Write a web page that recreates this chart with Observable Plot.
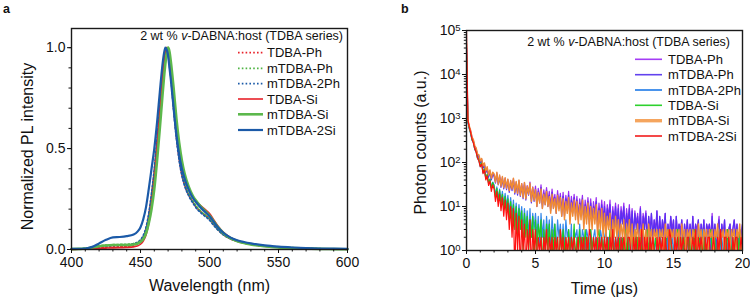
<!DOCTYPE html>
<html><head><meta charset="utf-8">
<script src="https://cdn.jsdelivr.net/npm/d3@7"></script>
<script src="https://cdn.jsdelivr.net/npm/@observablehq/plot@0.6"></script>
<style>
body{margin:0;background:#fff;}
#wrap{display:flex;width:750px;height:300px;overflow:hidden;}
#wrap svg{display:block;}
</style></head><body><div id="wrap"></div>
<script>
const FONT = "'Liberation Sans', Arial, Helvetica, sans-serif";

// ---------- Panel a: PL spectra ----------
const wavelengths = [400,405,410,415,420,425,430,435,440,445,
  448,450,452,454,456,458,460,462,464,466,
  467,468,469,470,471,472,474,476,478,480,
  482,485,488,491,494,497,500,503,506,510,
  515,520,525,530,540,550,560,570,580,590,600];

const plTDBAPh = [0.001,0.002,0.004,0.007,0.010,0.012,0.013,0.014,0.015,0.020,
  0.028,0.040,0.060,0.10,0.17,0.27,0.39,0.54,0.70,0.87,
  0.94,0.98,1.00,0.97,0.92,0.86,0.70,0.56,0.45,0.37,
  0.32,0.27,0.235,0.205,0.185,0.17,0.152,0.125,0.10,0.074,
  0.053,0.040,0.031,0.025,0.016,0.011,0.007,0.005,0.003,0.002,0.001];
const plMTDBAPh = [0.002,0.003,0.006,0.012,0.018,0.022,0.024,0.025,0.026,0.030,
  0.036,0.046,0.064,0.10,0.16,0.25,0.36,0.50,0.66,0.82,
  0.90,0.96,0.99,1.00,0.96,0.90,0.74,0.59,0.47,0.385,
  0.33,0.275,0.24,0.21,0.188,0.17,0.15,0.125,0.10,0.074,
  0.054,0.040,0.032,0.025,0.016,0.011,0.007,0.005,0.003,0.002,0.001];
const plMTDBA2Ph = [0.002,0.003,0.005,0.010,0.015,0.018,0.020,0.021,0.022,0.028,
  0.036,0.048,0.070,0.11,0.18,0.28,0.40,0.55,0.71,0.87,
  0.94,0.99,1.00,0.97,0.91,0.85,0.69,0.55,0.44,0.365,
  0.315,0.265,0.23,0.20,0.18,0.163,0.145,0.12,0.097,0.073,
  0.054,0.042,0.034,0.028,0.019,0.013,0.009,0.006,0.004,0.003,0.002];
const plTDBASi = [0.000,0.001,0.002,0.004,0.006,0.007,0.008,0.009,0.010,0.013,
  0.018,0.026,0.042,0.072,0.13,0.22,0.34,0.50,0.67,0.85,
  0.93,0.98,1.00,0.98,0.94,0.88,0.74,0.60,0.49,0.41,
  0.355,0.30,0.26,0.235,0.215,0.198,0.178,0.148,0.118,0.086,
  0.060,0.044,0.034,0.027,0.017,0.011,0.007,0.005,0.003,0.002,0.001];
const plMTDBASi = [0.002,0.003,0.005,0.010,0.016,0.020,0.022,0.022,0.022,0.025,
  0.030,0.038,0.052,0.080,0.13,0.20,0.30,0.44,0.60,0.77,
  0.85,0.92,0.97,1.00,0.98,0.93,0.80,0.65,0.53,0.44,
  0.375,0.31,0.265,0.235,0.21,0.19,0.168,0.14,0.112,0.082,
  0.057,0.042,0.032,0.025,0.016,0.010,0.007,0.005,0.003,0.002,0.001];
const plMTDBA2Si = [0.003,0.003,0.005,0.013,0.030,0.048,0.060,0.062,0.066,0.074,
  0.090,0.11,0.15,0.21,0.30,0.40,0.50,0.63,0.78,0.92,
  0.97,1.00,0.99,0.96,0.90,0.84,0.70,0.57,0.47,0.40,
  0.35,0.295,0.255,0.228,0.205,0.185,0.165,0.138,0.11,0.083,
  0.060,0.046,0.037,0.030,0.020,0.014,0.010,0.007,0.005,0.004,0.003];

const plNames = ["TDBA-Ph","mTDBA-Ph","mTDBA-2Ph","TDBA-Si","mTDBA-Si","mTDBA-2Si"];
const plValues = [plTDBAPh, plMTDBAPh, plMTDBA2Ph, plTDBASi, plMTDBASi, plMTDBA2Si];
const plXTicks = [400,450,500,550,600];
const plYTicks = [0,0.5,1.0];

// ---------- Panel b: decay (counts every 0.1 µs, 0–20 µs) ----------
const decayStep = 0.1;
const decayTDBAPh = [40000,900,640,520,370,310,230,205,150,140,
  105,118,80,92,62,75,50,64,42,58,
  52,38,58,34,50,30,46,28,44,27,
  41,24,38,26,43,22,36,21,39,20,
  33,18,35,17,30,21,36,15,28,16,
  29,12,26,15,31,11,24,14,27,13,
  22,10,25,12,19,9,23,11,20,8,
  21,8,18,10,22,7,17,9,19,8,
  17,6,15,9,18,5,14,7,16,6,
  15,5,13,7,16,4,12,6,14,5,
  13,4,11,6,14,3,10,5,12,4,
  11,3,10,5,12,3,9,4,11,3,
  9,2,8,4,7,3,10,2,7,4,
  8,2,6,3,7,2,5,3,8,2,
  6,2,5,3,7,1,4,2,6,3,
  5,1,6,2,4,3,5,1,4,2,
  5,2,4,1,6,2,4,3,5,1,
  4,2,5,1,4,3,4,2,7,1,
  4,2,3,6,1,4,2,5,1,3,
  3,4,1,3,5,2,4,1,3,2,
  4];
const decayMTDBAPh = [40000,870,620,500,350,300,220,195,142,130,
  98,110,74,86,58,70,46,60,40,54,
  48,34,54,31,46,27,42,25,40,24,
  37,21,34,23,39,19,32,18,35,17,
  29,15,31,14,26,18,32,12,24,13,
  25,10,22,12,27,9,20,11,23,10,
  18,8,21,9,16,7,19,9,17,6,
  17,6,15,8,18,5,14,7,16,6,
  14,5,12,7,15,4,11,5,13,4,
  12,4,10,5,13,3,9,4,11,3,
  10,3,9,4,11,2,8,3,10,3,
  9,2,8,4,10,2,7,3,9,2,
  8,2,7,3,6,2,9,1,6,3,
  7,1,6,2,7,2,5,2,8,1,
  6,2,5,2,7,1,4,2,6,2,
  5,1,6,2,4,2,5,1,4,2,
  5,1,4,2,6,1,4,2,5,1,
  4,2,5,1,4,2,4,1,6,2,
  4,1,3,5,1,4,2,5,1,3,
  3,4,1,3,5,2,4,1,3,2,
  4];
const decayMTDBA2Ph = [30000,820,580,450,320,280,195,175,122,112,
  80,94,58,70,43,53,34,42,27,36,
  31,18,28,15,25,13,22,11,20,10,
  18,7,16,6,14,5,12,4,11,5,
  10,3,9,3,8,2,9,2,7,3,
  7,2,6,1,7,2,5,1,6,2,
  5,1,6,2,4,1,5,2,4,1,
  4,1,5,2,3,1,4,0,3,2,
  3,1,4,1,3,2,1,3,2,1,
  3,1,2,3,1,2,0,3,2,1,
  2,3,1,2,0,2,3,1,2,1,
  3,1,2,0,2,1,3,2,1,2,
  1,2,3,1,2,0,2,1,3,1,
  2,1,0,3,1,2,1,2,0,2,
  3,1,2,1,0,2,1,3,1,2,
  1,2,0,2,3,1,2,1,2,0,
  2,1,3,1,2,0,1,2,3,1,
  1,3,1,2,0,2,1,2,1,2,
  2,0,2,3,1,2,1,0,2,1,
  3,1,2,0,2,1,3,1,2,1,
  2];
const decayTDBASi = [30000,880,600,470,330,290,200,180,128,116,
  84,98,60,72,44,54,34,42,26,35,
  29,16,26,13,23,11,19,9,17,8,
  15,5,13,4,11,3,10,2,9,3,
  8,1,7,2,6,1,5,2,6,0,
  5,1,4,2,5,0,3,1,4,1,
  4,0,3,1,4,1,2,0,3,1,
  3,1,2,0,3,1,2,1,4,0,
  2,1,3,0,2,1,3,1,2,0,
  3,1,2,1,0,2,3,1,2,1,
  2,0,2,1,3,1,2,0,2,1,
  1,2,0,2,1,3,1,2,0,2,
  2,1,3,0,2,1,2,1,0,2,
  1,3,1,2,0,2,1,2,1,0,
  2,1,0,2,1,2,3,1,2,1,
  0,2,1,3,1,0,2,1,2,1,
  2,1,2,0,1,3,1,2,0,2,
  1,2,1,2,0,1,2,3,1,0,
  2,0,2,1,2,1,0,2,1,3,
  1,2,1,0,2,1,2,1,3,0,
  2];
const decayMTDBASi = [50000,960,680,540,380,330,240,215,156,150,
  108,124,84,98,64,80,52,68,44,60,
  55,36,60,32,52,29,48,27,45,26,
  42,23,39,25,44,21,37,20,40,18,
  33,16,35,15,29,19,34,13,27,14,
  24,10,21,12,25,9,19,11,22,10,
  17,7,19,9,15,7,18,8,16,6,
  15,5,13,7,16,4,12,6,14,5,
  13,4,11,5,14,3,10,4,12,3,
  10,3,9,4,11,2,8,3,9,2,
  7,2,6,3,7,1,5,2,6,2,
  5,2,4,2,5,1,4,2,5,1,
  4,1,3,2,4,1,3,2,4,1,
  3,1,4,2,3,1,3,2,3,1,
  3,2,3,1,4,2,3,1,3,2,
  3,1,3,2,3,1,4,2,3,1,
  3,2,3,1,3,2,3,1,4,2,
  3,1,3,2,3,1,3,2,3,1,
  3,2,4,1,3,2,3,1,3,2,
  3,1,3,2,3,1,3,2,4,1,
  3];
const decayMTDBA2Si = [100000,930,640,480,340,275,205,170,126,108,
  80,92,56,68,40,50,30,38,22,31,
  25,13,22,10,19,8,16,6,14,5,
  12,3,10,2,9,0,7,1,6,0,
  5,1,4,0,3,1,5,0,3,1,
  3,0,2,1,2,0,2,1,3,0,
  2,1,2,0,2,1,2,0,3,1,
  2,0,2,1,2,0,2,1,2,1,
  1,2,0,2,1,2,0,2,1,3,
  2,0,2,1,2,0,2,1,2,0,
  2,1,2,0,2,1,3,0,2,1,
  2,0,2,1,2,1,0,2,2,1,
  0,2,1,2,0,2,1,3,0,2,
  1,2,0,2,1,2,1,0,2,1,
  2,1,2,0,2,1,0,3,2,1,
  0,2,1,2,0,2,1,2,1,0,
  2,2,0,1,2,1,3,0,2,1,
  2,1,0,2,1,2,2,0,1,2,
  1,0,2,1,3,1,0,2,2,0,
  2,1,0,2,1,2,2,0,1,2,
  1];

const decayNames = ["TDBA-Ph","mTDBA-Ph","mTDBA-2Ph","TDBA-Si","mTDBA-Si","mTDBA-2Si"];
const decayValues = [decayTDBAPh, decayMTDBAPh, decayMTDBA2Ph, decayTDBASi, decayMTDBASi, decayMTDBA2Si];
const decayXTicks = [0,5,10,15,20];
const decayYTicks = [1,10,100,1000,10000,100000];

// ---------- styles ----------
const plStyle = {
  "TDBA-Ph":   {stroke:"#e8222a", width:1.7, dash:"1.6,2.2"},
  "mTDBA-Ph":  {stroke:"#4fb444", width:1.7, dash:"1.6,2.2"},
  "mTDBA-2Ph": {stroke:"#1b5aa8", width:1.7, dash:"1.6,2.2"},
  "TDBA-Si":   {stroke:"#e8222a", width:1.6, dash:null},
  "mTDBA-Si":  {stroke:"#5cb84c", width:2.6, dash:null},
  "mTDBA-2Si": {stroke:"#1b5aa8", width:2.2, dash:null}
};
const decayStyle = {
  "TDBA-Ph":   {stroke:"#9b2cf2", width:1.2, legendWidth:1.6, legendStroke:"#a43cf5"},
  "mTDBA-Ph":  {stroke:"#5a30f0", width:1.2, legendWidth:1.6, legendStroke:"#6242ee"},
  "mTDBA-2Ph": {stroke:"#3488ea", width:1.2, legendWidth:2, legendStroke:"#4a94ec"},
  "TDBA-Si":   {stroke:"#1fcc1f", width:1.2, legendWidth:1.6, legendStroke:"#2ed12e"},
  "mTDBA-Si":  {stroke:"#f08a34", width:1.4, legendWidth:3.4, legendStroke:"#f5a55e"},
  "mTDBA-2Si": {stroke:"#ff1010", width:1.2, legendWidth:1.6, legendStroke:"#f21c1c"}
};

const plRows = plNames.flatMap((n, k) => wavelengths.map((w, i) => ({series:n, w, v: plValues[k][i]})));
const decayRows = decayNames.flatMap((n, k) => decayValues[k].map((c, i) => ({series:n, t: i * decayStep, c})));

function legend(svg, {titleX, titleY, x0, x1, xt, ys, styles, fontSize}) {
  const g = svg.append("g").attr("font-family", FONT).attr("fill", "#111").attr("text-anchor", "start");
  const t = g.append("text").attr("x", titleX).attr("y", titleY).attr("text-anchor","end").attr("font-size", 12.5);
  t.append("tspan").text("2 wt % ");
  t.append("tspan").attr("font-style","italic").text("v");
  t.append("tspan").text("-DABNA:host (TDBA series)");
  plNames.forEach((n, i) => {
    const s = styles[n];
    g.append("line").attr("x1", x0).attr("x2", x1).attr("y1", ys[i]).attr("y2", ys[i])
      .attr("stroke", s.legendStroke || s.stroke).attr("stroke-width", s.legendWidth || s.width)
      .attr("stroke-dasharray", s.dash || null);
    g.append("text").attr("x", xt).attr("y", ys[i] + fontSize * 0.36).attr("font-size", fontSize)
      .attr("text-anchor", "start").text(n);
  });
}

// ---------- Panel a plot ----------
const plotA = Plot.plot({
  width: 375, height: 300,
  marginLeft: 71, marginRight: 28, marginTop: 28, marginBottom: 51,
  style: {fontFamily: FONT, fontSize: "14px", color: "#111", background: "white", overflow: "visible"},
  x: {domain: [400, 600]},
  y: {domain: [0, 1.095]},
  marks: [
    ...plNames.map(n => Plot.line(plRows.filter(d => d.series === n), {
      x: "w", y: "v", stroke: plStyle[n].stroke, strokeWidth: plStyle[n].width,
      strokeDasharray: plStyle[n].dash || undefined, curve: "monotone-x"
    })),
    Plot.frame({stroke: "#1a1a1a", strokeWidth: 1.4}),
    Plot.axisX({ticks: plXTicks, tickSize: 4, tickPadding: 4, label: null, fontSize: 14}),
    Plot.axisX({ticks: d3.range(400, 601, 10), tickSize: 2.5, text: null, label: null}),
    Plot.axisY({ticks: plYTicks, tickFormat: d3.format(".1f"), tickSize: 4, tickPadding: 2, label: null, fontSize: 14}),
    Plot.axisY({ticks: d3.range(0, 1.001, 0.1), tickSize: 2.5, text: null, label: null}),
    Plot.text(["Wavelength (nm)"], {frameAnchor: "bottom", dy: 41, lineAnchor: "bottom", textAnchor: "middle", fontSize: 16, fill: "#111"}),
    Plot.text(["Normalized PL intensity"], {frameAnchor: "left", dx: -44, dy: 7.5, rotate: -90, textAnchor: "middle", lineAnchor: "middle", fontSize: 16, fill: "#111"})
  ]
});

// ---------- Panel b plot ----------
const plotB = Plot.plot({
  width: 375, height: 300,
  marginLeft: 91, marginRight: 8, marginTop: 30, marginBottom: 50,
  style: {fontFamily: FONT, fontSize: "14px", color: "#111", background: "white", overflow: "visible"},
  x: {domain: [0, 20]},
  y: {type: "log", domain: [1, 1e5]},
  marks: [
    ...decayNames.map(n => Plot.line(decayRows.filter(d => d.series === n), {
      x: "t", y: d => Math.max(d.c, 0.3), stroke: decayStyle[n].stroke, strokeWidth: decayStyle[n].width,
      clip: true
    })),
    Plot.frame({stroke: "#1a1a1a", strokeWidth: 1.4}),
    Plot.axisX({ticks: decayXTicks, tickSize: 4, tickPadding: 4, label: null, fontSize: 14}),
    Plot.axisX({ticks: d3.range(0, 20.01, 1), tickSize: 2.5, text: null, label: null}),
    Plot.axisY({ticks: decayYTicks, tickFormat: d => "E" + Math.round(Math.log10(d)), tickSize: 4, tickPadding: 2, label: null, fontSize: 14}),
    Plot.axisY({ticks: d3.range(0, 5).flatMap(e => d3.range(2, 10).map(m => m * 10 ** e)), tickSize: 2.2, text: null, label: null}),
    Plot.text(["Time (\u03bcs)"], {frameAnchor: "bottom", dy: 43, lineAnchor: "bottom", textAnchor: "middle", fontSize: 16, fill: "#111"}),
    Plot.text(["Photon counts (a.u.)"], {frameAnchor: "left", dx: -46, dy: 2, rotate: -90, textAnchor: "middle", lineAnchor: "middle", fontSize: 16, fill: "#111"})
  ]
});

// superscript exponents
d3.select(plotB).selectAll('g[aria-label="y-axis tick label"] text').each(function() {
  const el = d3.select(this);
  const s = el.text();
  if (!s.startsWith("E")) return;
  el.text("");
  el.append("tspan").text("10");
  el.append("tspan").attr("dy", "-0.45em").attr("font-size", "0.68em").text(s.slice(1));
});

const wrap = document.getElementById("wrap");
wrap.appendChild(plotA);
wrap.appendChild(plotB);

const sA = d3.select(plotA), sB = d3.select(plotB);
sA.append("text").attr("x", 3).attr("y", 12.5).attr("text-anchor", "start").attr("font-family", FONT).attr("font-weight", "bold").attr("font-size", 12.5).attr("fill", "#111").text("a");
sB.append("text").attr("x", 26).attr("y", 12.5).attr("text-anchor", "start").attr("font-family", FONT).attr("font-weight", "bold").attr("font-size", 12.5).attr("fill", "#111").text("b");

legend(sA, {titleX: 343, titleY: 39.5, x0: 238, x1: 263, xt: 267, ys: [52.7, 68.3, 83.7, 99, 114.3, 130], styles: plStyle, fontSize: 13});
legend(sB, {titleX: 355, titleY: 46, x0: 260, x1: 287, xt: 293, ys: [59.3, 74.7, 90, 105.3, 120.7, 136], styles: decayStyle, fontSize: 13});
</script></body></html>
